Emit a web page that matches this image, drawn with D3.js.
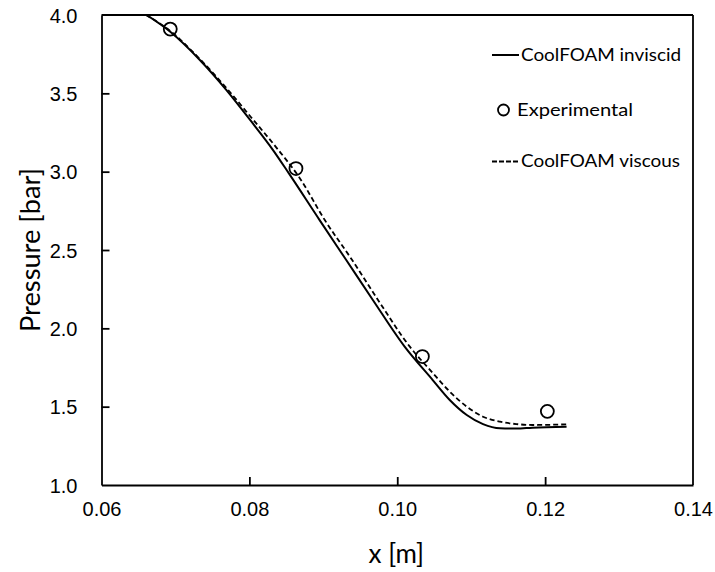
<!DOCTYPE html>
<html>
<head>
<meta charset="utf-8">
<script src="https://cdn.jsdelivr.net/npm/d3@7"></script>
<style>
  html, body { margin: 0; padding: 0; background: #fff; }
  svg { display: block; font-family: Lato, "Open Sans", sans-serif; }
</style>
</head>
<body>
<svg id="chart" width="715" height="572"></svg>
<script>
// Pressure along the nozzle axis: CoolFOAM simulations vs. measurements
const inviscidX = [0.0661, 0.0693, 0.0733, 0.0769, 0.0801, 0.0832, 0.0853, 0.0895, 0.0931, 0.0967, 0.1010, 0.1048, 0.1071, 0.1094, 0.1116, 0.1139, 0.1161, 0.1183, 0.1229];
const inviscidP = [4.000, 3.893, 3.713, 3.521, 3.330, 3.138, 2.992, 2.691, 2.436, 2.181, 1.883, 1.670, 1.543, 1.447, 1.389, 1.362, 1.360, 1.366, 1.372];

const viscousX = [0.0660, 0.0693, 0.0733, 0.0769, 0.0802, 0.0836, 0.0868, 0.0902, 0.0939, 0.0974, 0.1017, 0.1048, 0.1071, 0.1094, 0.1116, 0.1139, 0.1161, 0.1183, 0.1229];
const viscousP = [4.000, 3.898, 3.719, 3.534, 3.349, 3.157, 2.960, 2.691, 2.436, 2.181, 1.883, 1.715, 1.596, 1.500, 1.436, 1.404, 1.389, 1.383, 1.387];

const expX = [0.0693, 0.0863, 0.1034, 0.1203];
const expP = [3.91, 3.02, 1.82, 1.47];

const xTicks = [0.06, 0.08, 0.10, 0.12, 0.14];
const yTicks = [1.0, 1.5, 2.0, 2.5, 3.0, 3.5, 4.0];

const legendLabels = ["CoolFOAM inviscid", "Experimental", "CoolFOAM viscous"];

const svg = d3.select("#chart");
const m = { left: 101.5, right: 693, top: 15, bottom: 485 };

const x = d3.scaleLinear().domain([0.06, 0.14]).range([m.left, m.right]);
const y = d3.scaleLinear().domain([1.0, 4.0]).range([m.bottom, m.top]);

// Clip curves to the plot frame
svg.append("defs").append("clipPath").attr("id", "plot-clip")
  .append("rect").attr("x", m.left).attr("y", m.top)
  .attr("width", m.right - m.left).attr("height", m.bottom - m.top);

// Axes with inward-pointing ticks
const xAxis = d3.axisBottom(x).tickValues(xTicks).tickSizeInner(-8).tickSizeOuter(0)
  .tickFormat(d3.format(".2f")).tickPadding(17);
const yAxis = d3.axisLeft(y).tickValues(yTicks).tickSizeInner(-8).tickSizeOuter(0)
  .tickFormat(d3.format(".1f")).tickPadding(24);

const gx = svg.append("g").attr("transform", `translate(0,${m.bottom})`).call(xAxis);
const gy = svg.append("g").attr("transform", `translate(${m.left},0)`).call(yAxis);

[gx, gy].forEach(g => {
  g.select(".domain").attr("stroke", "#000").attr("stroke-width", 1.8);
  g.selectAll(".tick line").attr("stroke", "#000").attr("stroke-width", 1.8);
  g.selectAll(".tick text").attr("fill", "#000").attr("font-size", 20);
});
gx.selectAll(".tick text").attr("dy", "0.71em");
gy.selectAll(".tick text").attr("dy", "0.35em");
// ticks at the frame corners are hidden by the frame itself
gx.selectAll(".tick line").filter(d => d === 0.06 || d === 0.14).remove();
gy.selectAll(".tick line").filter(d => d === 1.0 || d === 4.0).remove();

// Top and right edges of the frame
svg.append("line").attr("x1", m.left).attr("x2", m.right).attr("y1", m.top).attr("y2", m.top)
  .attr("stroke", "#000").attr("stroke-width", 1.8);
svg.append("line").attr("x1", m.right).attr("x2", m.right).attr("y1", m.top).attr("y2", m.bottom)
  .attr("stroke", "#000").attr("stroke-width", 1.8);

// Axis titles
svg.append("text").attr("x", (m.left + m.right) / 2 - 1).attr("y", 563)
  .attr("text-anchor", "middle").attr("font-size", 26).attr("fill", "#000").text("x [m]");
svg.append("text").attr("transform", `translate(40,${(m.top + m.bottom) / 2}) rotate(-90)`)
  .attr("text-anchor", "middle").attr("font-size", 26).attr("fill", "#000")
  .attr("textLength", 164).attr("lengthAdjust", "spacingAndGlyphs").text("Pressure [bar]");

const line = d3.line().x(d => x(d[0])).y(d => y(d[1])).curve(d3.curveMonotoneX);
const plot = svg.append("g").attr("clip-path", "url(#plot-clip)");

plot.append("path").datum(d3.zip(viscousX, viscousP))
  .attr("d", line).attr("fill", "none").attr("stroke", "#000")
  .attr("stroke-width", 1.8).attr("stroke-dasharray", "5,3");

plot.append("path").datum(d3.zip(inviscidX, inviscidP))
  .attr("d", line).attr("fill", "none").attr("stroke", "#000").attr("stroke-width", 2);

plot.selectAll("circle.exp").data(d3.zip(expX, expP)).join("circle")
  .attr("class", "exp")
  .attr("cx", d => x(d[0])).attr("cy", d => y(d[1])).attr("r", 6.5)
  .attr("fill", "none").attr("stroke", "#000").attr("stroke-width", 1.8);

// Legend
const lg = svg.append("g");
lg.append("line").attr("x1", 492).attr("x2", 519).attr("y1", 55).attr("y2", 55)
  .attr("stroke", "#000").attr("stroke-width", 2);
lg.append("circle").attr("cx", 503.5).attr("cy", 110).attr("r", 5.5)
  .attr("fill", "none").attr("stroke", "#000").attr("stroke-width", 1.8);
lg.append("line").attr("x1", 492).attr("x2", 519).attr("y1", 161.5).attr("y2", 161.5)
  .attr("stroke", "#000").attr("stroke-width", 1.8).attr("stroke-dasharray", "5,2");

const legendPos = [[521, 61, 160], [517, 116, 116], [521, 167, 159]];
legendLabels.forEach((t, i) => {
  lg.append("text").attr("x", legendPos[i][0]).attr("y", legendPos[i][1])
    .attr("font-size", 17).attr("fill", "#000")
    .attr("textLength", legendPos[i][2]).attr("lengthAdjust", "spacingAndGlyphs")
    .text(t);
});
</script>
</body>
</html>
